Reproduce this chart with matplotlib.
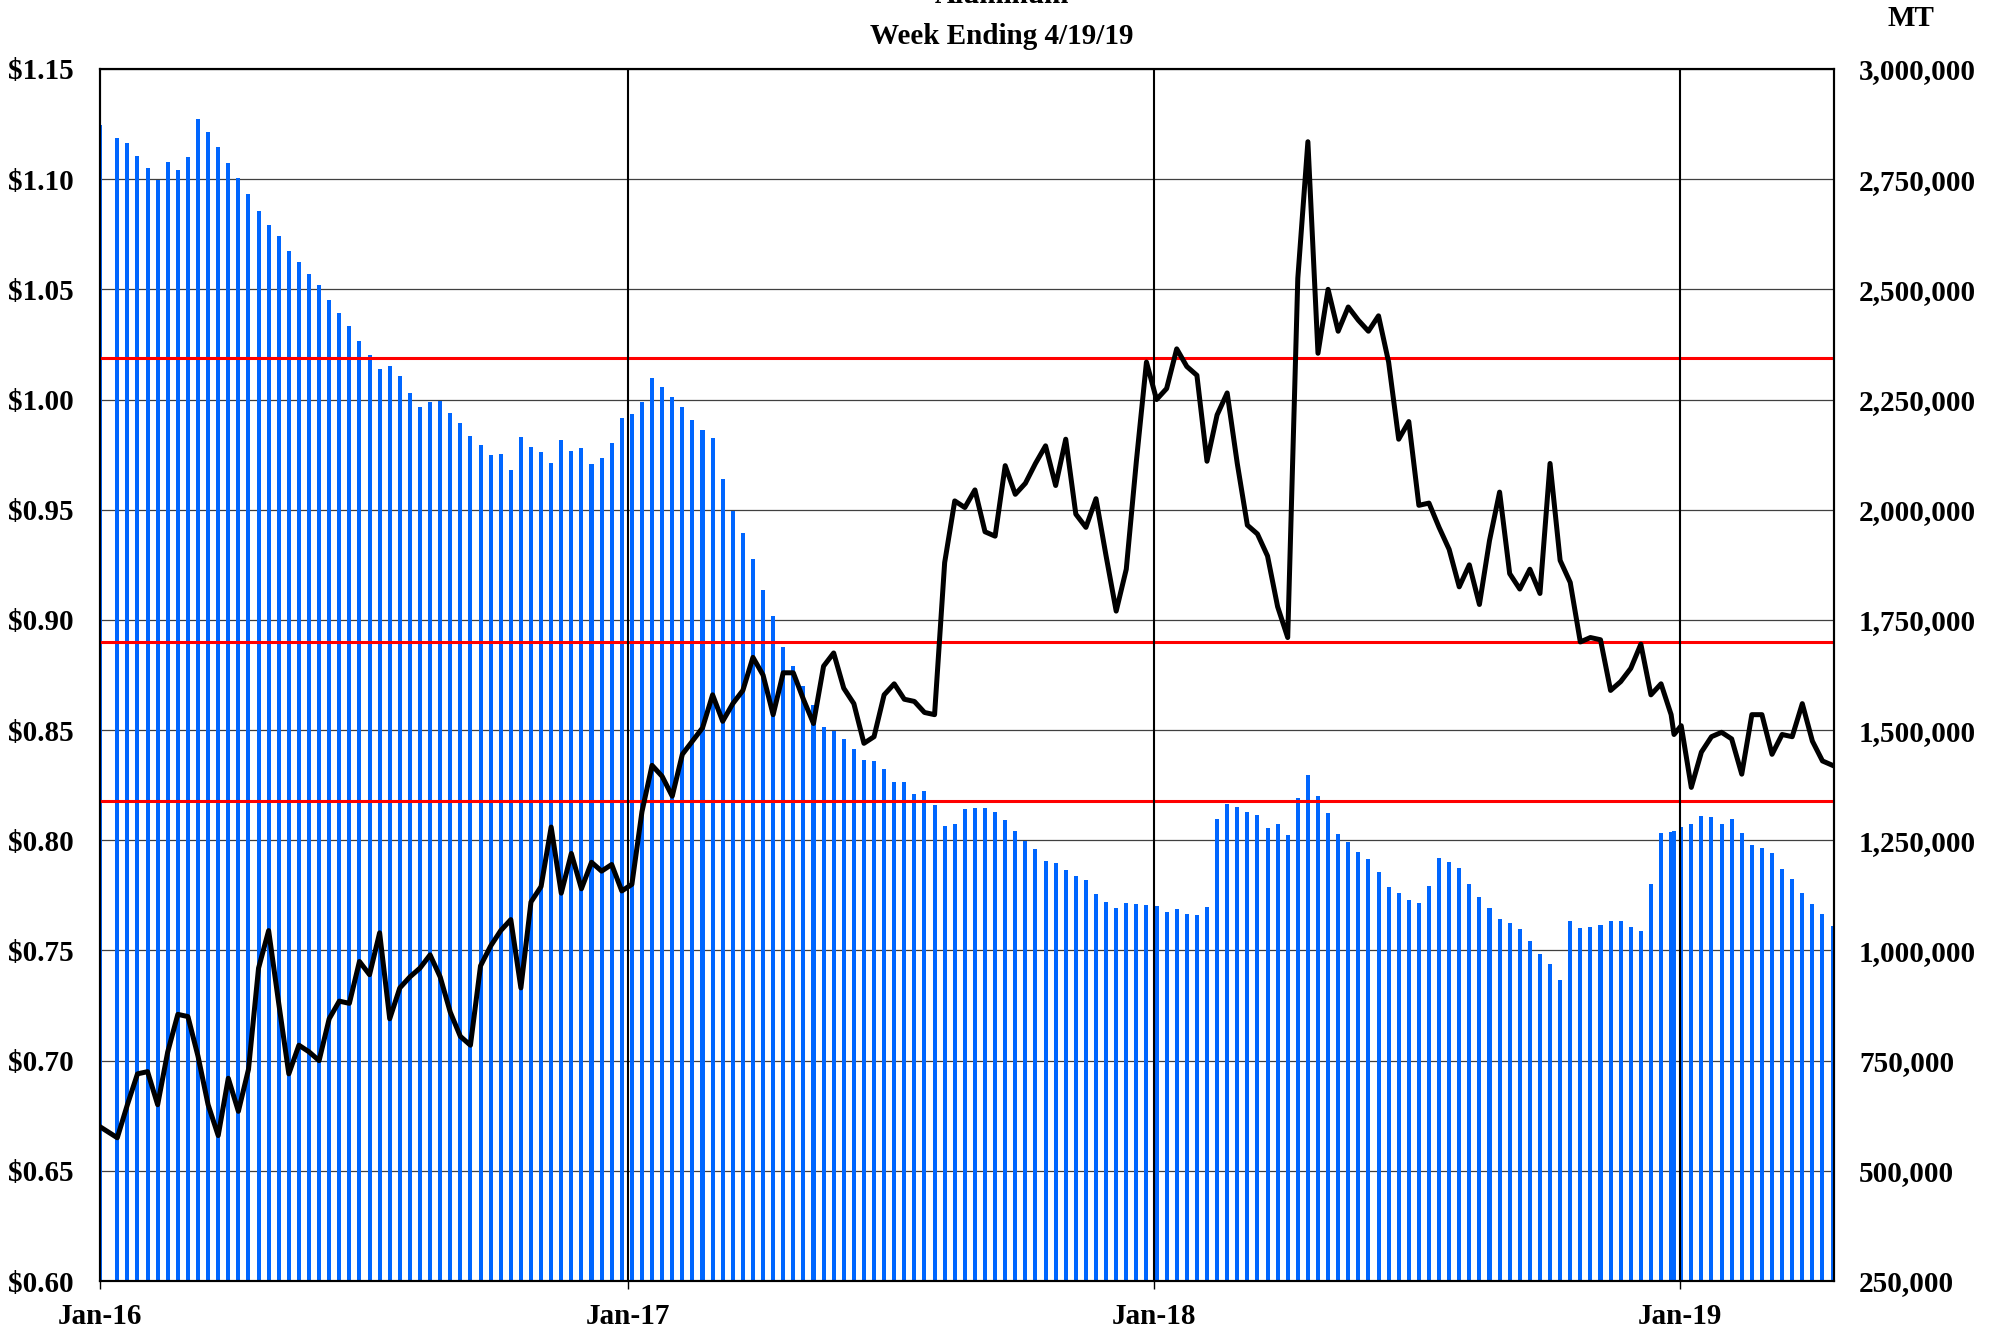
import pandas as pd
import matplotlib
matplotlib.use('Agg')
import matplotlib.pyplot as plt
from matplotlib.ticker import FuncFormatter

# LME style weekly chart: stocks (bars, right axis) and price (line, left axis)

# week-ending dates: first print on 1 Jan 2016, then Wednesdays, plus an extra print on 28 Dec 2018
week_dates = pd.date_range('2016-01-13', '2019-04-17', freq='W-WED')
week_dates = week_dates.append(pd.DatetimeIndex(['2016-01-01', '2018-12-28'])).sort_values()

# stocks, thousand MT
stocks_kt = [
    2873, 2843, 2833, 2803, 2776, 2748, 2789, 2770, 2800, 2886,
    2857, 2823, 2786, 2752, 2717, 2677, 2647, 2620, 2586, 2561,
    2535, 2509, 2475, 2447, 2417, 2383, 2351, 2319, 2325, 2303,
    2265, 2233, 2245, 2247, 2220, 2196, 2167, 2147, 2124, 2127,
    2090, 2166, 2143, 2131, 2105, 2158, 2133, 2140, 2104, 2118,
    2151, 2207, 2218, 2245, 2300, 2279, 2256, 2232, 2203, 2182,
    2162, 2069, 1997, 1947, 1888, 1818, 1760, 1688, 1646, 1600,
    1556, 1508, 1497, 1480, 1457, 1433, 1430, 1411, 1383, 1383,
    1355, 1362, 1331, 1283, 1287, 1322, 1323, 1323, 1315, 1297,
    1270, 1249, 1231, 1204, 1198, 1183, 1170, 1159, 1127, 1110,
    1096, 1107, 1106, 1103, 1101, 1088, 1093, 1083, 1080, 1098,
    1298, 1332, 1325, 1314, 1307, 1278, 1288, 1262, 1347, 1398,
    1351, 1313, 1265, 1245, 1224, 1208, 1177, 1144, 1130, 1115,
    1108, 1146, 1210, 1201, 1187, 1151, 1121, 1096, 1072, 1062,
    1048, 1022, 993, 969, 934, 1067, 1051, 1053, 1057, 1067,
    1067, 1054, 1044, 1151, 1266, 1268, 1271, 1280, 1286, 1304,
    1302, 1286, 1298, 1266, 1240, 1233, 1222, 1184, 1161, 1131,
    1106, 1083, 1056,
]

# price, $/lb
price = [
    0.670, 0.665, 0.680, 0.694, 0.695, 0.680, 0.704, 0.721, 0.720, 0.702,
    0.680, 0.666, 0.692, 0.677, 0.696, 0.742, 0.759, 0.726, 0.694, 0.707,
    0.704, 0.700, 0.719, 0.727, 0.726, 0.745, 0.739, 0.758, 0.719, 0.733,
    0.738, 0.742, 0.748, 0.738, 0.722, 0.711, 0.707, 0.743, 0.752, 0.759,
    0.764, 0.733, 0.772, 0.779, 0.806, 0.776, 0.794, 0.778, 0.790, 0.786,
    0.789, 0.777, 0.780, 0.813, 0.834, 0.829, 0.820, 0.839, 0.845, 0.851,
    0.866, 0.854, 0.862, 0.868, 0.883, 0.875, 0.857, 0.876, 0.876, 0.864,
    0.853, 0.879, 0.885, 0.869, 0.862, 0.844, 0.847, 0.866, 0.871, 0.864,
    0.863, 0.858, 0.857, 0.926, 0.954, 0.951, 0.959, 0.940, 0.938, 0.970,
    0.957, 0.962, 0.971, 0.979, 0.961, 0.982, 0.948, 0.942, 0.955, 0.929,
    0.904, 0.923, 0.972, 1.017, 1.000, 1.005, 1.023, 1.015, 1.011, 0.972,
    0.993, 1.003, 0.971, 0.943, 0.939, 0.929, 0.906, 0.892, 1.055, 1.117,
    1.021, 1.050, 1.031, 1.042, 1.036, 1.031, 1.038, 1.017, 0.982, 0.990,
    0.952, 0.953, 0.942, 0.932, 0.915, 0.925, 0.907, 0.936, 0.958, 0.921,
    0.914, 0.923, 0.912, 0.971, 0.927, 0.917, 0.890, 0.892, 0.891, 0.868,
    0.872, 0.878, 0.889, 0.866, 0.871, 0.857, 0.848, 0.852, 0.824, 0.840,
    0.847, 0.849, 0.846, 0.830, 0.857, 0.857, 0.839, 0.848, 0.847, 0.862,
    0.845, 0.836, 0.834,
]

ref_levels = [1.019, 0.890, 0.818]
year_ticks = pd.to_datetime(['2016-01-01', '2017-01-01', '2018-01-01', '2019-01-01'])
year_labels = ['Jan-16', 'Jan-17', 'Jan-18', 'Jan-19']
price_ticks = [0.60 + 0.05 * i for i in range(12)]
stock_ticks = list(range(250000, 3000001, 250000))

stocks = [v * 1000 for v in stocks_kt]

plt.rcParams['font.family'] = ['Liberation Serif', 'DejaVu Serif']
plt.rcParams['font.weight'] = 'bold'

fig = plt.figure(figsize=(20.03, 13.32), dpi=100)
ax = fig.add_axes([100 / 2003, 51 / 1332, 1734 / 2003, 1212 / 1332])

# bars on the main axes so the line can sit on top
ax.bar(week_dates, stocks, width=2.8, color='#0066ff', zorder=2)
ax.set_ylim(250000, 3000000)
ax.set_yticks(stock_ticks)
ax.yaxis.set_major_formatter(FuncFormatter(lambda v, p: f'{v:,.0f}'))
ax.set_axisbelow(True)
ax.yaxis.grid(True, color='#404040', linewidth=0.9)

ax2 = ax.twinx()
ax.yaxis.tick_right()
ax2.yaxis.tick_left()
ax2.set_ylim(0.60, 1.15)
ax2.set_yticks(price_ticks)
ax2.yaxis.set_major_formatter(FuncFormatter(lambda v, p: f'${v:.2f}'))

for lvl in ref_levels:
    ax2.axhline(lvl, color='#ff0000', linewidth=2.2, zorder=2)
for d in year_ticks[1:]:
    ax2.axvline(d, color='black', linewidth=1.5, zorder=2)

ax2.plot(week_dates, price, color='black', linewidth=3.6, zorder=3)

ax.set_xlim(pd.Timestamp('2016-01-01'), pd.Timestamp('2019-04-18'))
ax.set_xticks(year_ticks)
ax.set_xticklabels(year_labels)

ax.tick_params(axis='y', length=0, pad=18, labelsize=21)
ax2.tick_params(axis='y', length=0, pad=19, labelsize=21)
ax.tick_params(axis='x', length=6, width=1, direction='out', pad=10, labelsize=21)

for a in (ax, ax2):
    for s in a.spines.values():
        s.set_linewidth(1.5)
        s.set_color('black')

# the top title line is clipped by the page edge in the original
fig.text(0.5, 1 - 3 / 1332, 'Aluminum', ha='center', va='baseline', fontsize=21)
fig.text(0.5, 1 - 36 / 1332, 'Week Ending 4/19/19', ha='center', va='center', fontsize=21)
fig.text(1911 / 2003, 1 - 18 / 1332, 'MT', ha='center', va='center', fontsize=21)

fig.savefig('out.png', dpi=100)
